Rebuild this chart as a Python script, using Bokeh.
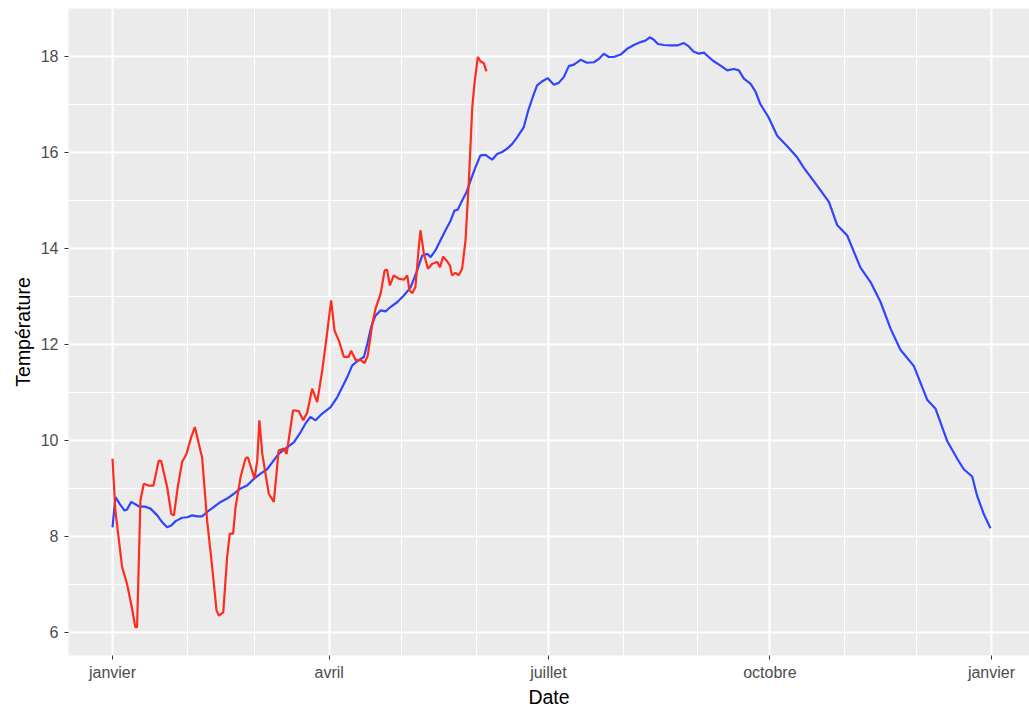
import pandas as pd
from bokeh.plotting import figure
from bokeh.models import ColumnDataSource, FixedTicker, Range1d
from bokeh.embed import file_html
from bokeh.resources import INLINE

# ---- data ----
ANNEE = "2019-01-01"

# blue series: days since 1 January, temperature
blue_jour = [0, 1.2, 3, 5, 6, 7.8, 9.5, 11.3, 13.7, 15.8, 18.6, 20.6, 22.7, 24.4, 26.2,
             28.9, 31, 33.1, 35.2, 37.2, 39.3, 42, 44.9, 47.6, 50.4, 53.2, 55.9, 58.7,
             61.5, 64.2, 69, 71.8, 75.3, 78.1, 80.1, 82.2, 84.3, 87.1, 90.5, 93.3, 95.4,
             97.5, 99.5, 101.6, 104.4, 105.8, 107.4, 109.2, 111.3, 113.4, 115.4, 118.2,
             121, 123.8, 126.5, 128.6, 130.7, 132.1, 134.1, 136.2, 138.3, 140.4, 142,
             143.4, 145.2, 147, 148.7, 150.7, 152.8, 154.9, 156.3, 157.7, 159.7, 161.8,
             163.9, 166, 168.1, 170.8, 172.5, 174.3, 176.3, 178.4, 180.7, 183.3, 185.3,
             187.4, 189.5, 191.6, 194.4, 197.1, 199.9, 202, 204, 206.1, 208.2, 211,
             213.7, 216.5, 219.3, 221.3, 223.1, 224.8, 226.5, 229, 231.7, 234.5, 237.3,
             239.3, 241.4, 243.5, 245.6, 247.6, 249.7, 252.5, 255.3, 258, 260.1, 262.2,
             265, 267.1, 269, 272.6, 276, 280.2, 284.3, 287.1, 292.6, 297.5, 300.9,
             305.1, 310.6, 314.8, 318.9, 323.1, 327.2, 332.8, 338.3, 341.8, 346.6,
             350.8, 353.5, 357, 359.1, 361.8, 364.6]
blue_temp = [8.19, 8.82, 8.68, 8.54, 8.56, 8.72, 8.67, 8.62, 8.62, 8.58, 8.44, 8.30, 8.19,
             8.23, 8.32, 8.39, 8.40, 8.44, 8.42, 8.42, 8.51, 8.61, 8.72, 8.79, 8.89, 9.00,
             9.06, 9.20, 9.31, 9.40, 9.72, 9.83, 9.96, 10.17, 10.35, 10.49, 10.42, 10.56,
             10.69, 10.90, 11.11, 11.32, 11.56, 11.65, 11.74, 12.01, 12.36, 12.60, 12.71,
             12.69, 12.78, 12.88, 13.02, 13.19, 13.54, 13.85, 13.89, 13.82, 13.96, 14.17,
             14.38, 14.58, 14.79, 14.81, 15.00, 15.17, 15.42, 15.69, 15.94, 15.95, 15.90,
             15.85, 15.97, 16.01, 16.08, 16.18, 16.32, 16.53, 16.85, 17.12, 17.40, 17.48,
             17.55, 17.41, 17.45, 17.57, 17.80, 17.83, 17.93, 17.87, 17.88, 17.95, 18.06,
             17.99, 17.99, 18.04, 18.16, 18.24, 18.30, 18.33, 18.40, 18.35, 18.26, 18.24,
             18.23, 18.23, 18.28, 18.21, 18.10, 18.06, 18.08, 17.99, 17.90, 17.81, 17.71,
             17.74, 17.71, 17.54, 17.43, 17.26, 17.01, 16.72, 16.35, 16.13, 15.90, 15.68,
             15.31, 14.97, 14.49, 14.27, 13.60, 13.30, 12.89, 12.33, 11.89, 11.55, 10.85,
             10.66, 9.99, 9.62, 9.40, 9.25, 8.84, 8.47, 8.17]

# red series: days since 1 January, temperature
red_jour = [0, 1.2, 4, 6, 8, 9.5, 10.2, 11.6, 13, 15, 17, 19.2, 20.2, 22.7, 24.4, 25.5,
            27.1, 28.9, 30.7, 32.7, 34.2, 36.5, 37.2, 39.3, 41.4, 43.2, 44.2, 46, 47.6,
            48.7, 50.1, 51.1, 53.2, 55.2, 56.2, 59, 60.1, 61, 62.2, 64.9, 67, 69, 71.1,
            72.3, 75, 77.4, 79.2, 80.9, 82.9, 85, 87.1, 88.9, 90.8, 92.2, 94, 96.1, 98.1,
            99.1, 101, 103, 104.7, 106, 107.9, 109.2, 111.3, 113, 114, 115.2, 116.8,
            118.9, 121, 122.4, 123.3, 124.5, 125.8, 127.2, 127.9, 129.3, 131, 132.8,
            134.9, 136, 137.3, 138.7, 140.1, 141, 142.4, 143.8, 145.2, 146.6, 148, 149.4,
            150.3, 151.7, 152.8, 154.2, 155.3]
red_temp = [9.62, 8.54, 7.36, 7.02, 6.53, 6.11, 6.11, 8.75, 9.10, 9.06, 9.06, 9.58, 9.57,
            9.03, 8.47, 8.44, 9.03, 9.55, 9.72, 10.07, 10.28, 9.79, 9.65, 8.33, 7.36, 6.46,
            6.35, 6.42, 7.57, 8.06, 8.06, 8.61, 9.24, 9.62, 9.65, 9.20, 9.58, 10.42, 9.72,
            8.89, 8.72, 9.79, 9.83, 9.72, 10.63, 10.61, 10.42, 10.59, 11.08, 10.80, 11.46,
            12.15, 12.92, 12.29, 12.08, 11.74, 11.74, 11.87, 11.67, 11.68, 11.61, 11.77,
            12.43, 12.74, 13.05, 13.54, 13.56, 13.23, 13.44, 13.37, 13.35, 13.44, 13.13,
            13.07, 13.20, 14.03, 14.38, 13.89, 13.58, 13.68, 13.72, 13.61, 13.83, 13.75,
            13.65, 13.44, 13.49, 13.44, 13.58, 14.17, 15.42, 16.94, 17.43, 17.99, 17.90,
            17.86, 17.69]

tick_dates = ["2019-01-01", "2019-04-01", "2019-07-01", "2019-10-01", "2020-01-01"]
tick_labels = ["janvier", "avril", "juillet", "octobre", "janvier"]
minor_dates = ["2019-02-01", "2019-03-01", "2019-05-01", "2019-06-01",
               "2019-08-01", "2019-09-01", "2019-11-01", "2019-12-01"]
y_ticks = [6, 8, 10, 12, 14, 16, 18]
y_minor = [7, 9, 11, 13, 15, 17]

# ---- build ----
DAY_MS = 86400000.0


def ms(d):
    return pd.Timestamp(d).value / 1e6


start = pd.Timestamp(ANNEE)
blue_src = ColumnDataSource(dict(
    date=start + pd.to_timedelta(blue_jour, unit="D"), temp=blue_temp))
red_src = ColumnDataSource(dict(
    date=start + pd.to_timedelta(red_jour, unit="D"), temp=red_temp))

x0 = ms(ANNEE)
p = figure(width=1029, height=711, x_axis_type="datetime",
           x_range=Range1d(x0 - 18.27 * DAY_MS, x0 + 380.8 * DAY_MS),
           y_range=Range1d(5.52, 19.0),
           output_backend="svg", toolbar_location=None,
           min_border_left=68, min_border_right=0, min_border_top=8,
           min_border_bottom=56)

p.background_fill_color = "#EBEBEB"
p.border_fill_color = "white"
p.outline_line_color = None

xticker = FixedTicker(ticks=[ms(d) for d in tick_dates],
                      minor_ticks=[ms(d) for d in minor_dates])
yticker = FixedTicker(ticks=y_ticks, minor_ticks=y_minor)
p.xaxis.ticker = xticker
p.yaxis.ticker = yticker
p.xgrid.ticker = xticker
p.ygrid.ticker = yticker
p.xaxis.major_label_overrides = {ms(d): lab for d, lab in zip(tick_dates, tick_labels)}

for g in (p.xgrid, p.ygrid):
    g.grid_line_color = "white"
    g.grid_line_width = 2
    g.minor_grid_line_color = "white"
    g.minor_grid_line_width = 1

for ax in (p.xaxis, p.yaxis):
    ax.axis_line_color = None
    ax.major_tick_line_color = "#333333"
    ax.major_tick_line_width = 1
    ax.major_tick_out = 4
    ax.major_tick_in = 0
    ax.minor_tick_line_color = None
    ax.major_label_text_font = "Liberation Sans"
    ax.major_label_text_font_size = "16px"
    ax.major_label_text_color = "#4D4D4D"
    ax.axis_label_text_font = "Liberation Sans"
    ax.axis_label_text_font_size = "19.5px"
    ax.axis_label_text_font_style = "normal"
    ax.axis_label_text_color = "black"

p.xaxis.axis_label = "Date"
p.yaxis.axis_label = "Température"
p.xaxis.major_label_standoff = 4
p.xaxis.axis_label_standoff = 2
p.yaxis.major_label_standoff = 6
p.yaxis.axis_label_standoff = 4

p.line("date", "temp", source=blue_src, line_color="#2F45FF", line_width=2.2)
p.line("date", "temp", source=red_src, line_color="#FF2B1C", line_width=2.2)

open("out.html", "w").write(file_html(p, INLINE))
